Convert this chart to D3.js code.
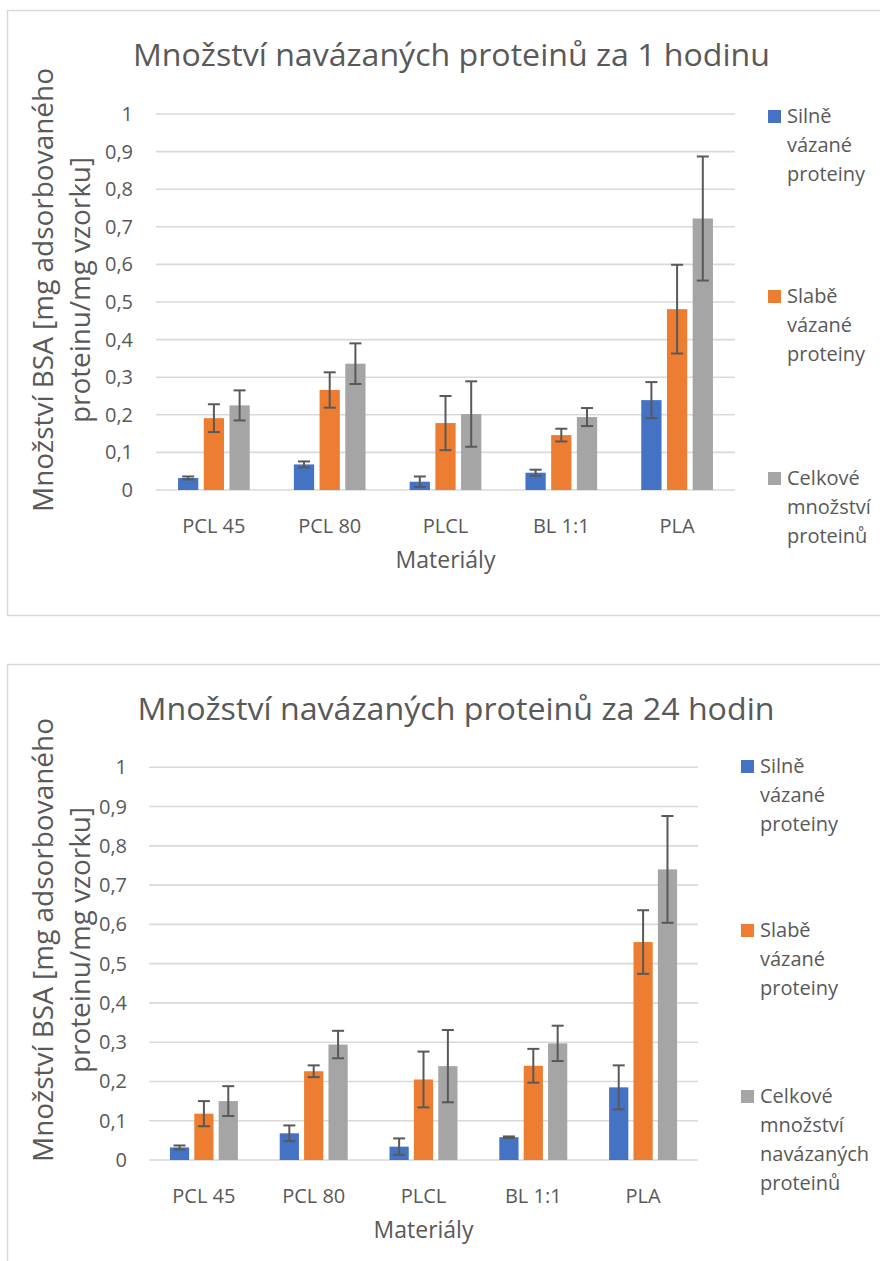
<!DOCTYPE html>
<html>
<head>
<meta charset="utf-8">
<script src="https://cdn.jsdelivr.net/npm/d3@7"></script>
<style>
  body { margin: 0; background: #fff; }
  text { font-family: "Open Sans", "Noto Sans", sans-serif; fill: #595959; }
</style>
</head>
<body>
<script>
var width = 880;
var height = 1261;

// data
var categories = ["PCL 45", "PCL 80", "PLCL", "BL 1:1", "PLA"];
var xTitle = "Materiály";
var yTitle = ["Množství BSA [mg adsorbovaného", "proteinu/mg vzorku]"];

var title1h = "Množství navázaných proteinů za 1 hodinu";
var legend1h = [["Silně", "vázané", "proteiny"], ["Slabě", "vázané", "proteiny"], ["Celkové", "množství", "proteinů"]];
var strong1h = [0.032, 0.068, 0.022, 0.046, 0.239];
var strong1hErr = [0.004, 0.008, 0.014, 0.008, 0.048];
var weak1h = [0.191, 0.266, 0.178, 0.146, 0.481];
var weak1hErr = [0.037, 0.047, 0.072, 0.017, 0.118];
var total1h = [0.225, 0.336, 0.202, 0.194, 0.722];
var total1hErr = [0.040, 0.054, 0.087, 0.024, 0.165];

var title24h = "Množství navázaných proteinů za 24 hodin";
var legend24h = [["Silně", "vázané", "proteiny"], ["Slabě", "vázané", "proteiny"], ["Celkové", "množství", "navázaných", "proteinů"]];
var strong24h = [0.032, 0.068, 0.034, 0.058, 0.185];
var strong24hErr = [0.005, 0.020, 0.021, 0.002, 0.056];
var weak24h = [0.118, 0.226, 0.205, 0.240, 0.555];
var weak24hErr = [0.032, 0.015, 0.071, 0.043, 0.081];
var total24h = [0.150, 0.294, 0.239, 0.297, 0.740];
var total24hErr = [0.038, 0.035, 0.092, 0.045, 0.136];

var colors = ["#4472C4", "#ED7D31", "#A5A5A5"];

var svg = d3.select("body")
    .append("svg")
    .attr("width", width)
    .attr("height", height);

function drawChart(cfg) {
    var g = svg.append("g");

    // chart border
    g.append("rect")
        .attr("x", 7.5)
        .attr("y", cfg.top + 0.5)
        .attr("width", 900)
        .attr("height", cfg.boxH)
        .attr("fill", "none")
        .attr("stroke", "#d9d9d9")
        .attr("stroke-width", 1.5);

    var x = d3.scaleBand()
        .domain(categories)
        .range([cfg.left, cfg.right]);
    var y = d3.scaleLinear()
        .domain([0, 1])
        .range([cfg.bottom, cfg.plotTop]);

    var ticks = y.ticks(10);

    // gridlines
    g.append("g").selectAll("line")
        .data(ticks)
        .enter()
        .append("line")
        .attr("x1", cfg.left)
        .attr("x2", cfg.right)
        .attr("y1", function(d){ return y(d); })
        .attr("y2", function(d){ return y(d); })
        .attr("stroke", "#d9d9d9")
        .attr("stroke-width", 1.6);

    // y tick labels
    g.append("g").selectAll("text")
        .data(ticks)
        .enter()
        .append("text")
        .attr("x", cfg.tickX)
        .attr("y", function(d){ return y(d); })
        .attr("dy", "0.35em")
        .attr("text-anchor", "end")
        .style("font-size", "20px")
        .text(function(d){ return d3.format(".1~f")(d).replace(".", ","); });

    // category labels
    g.append("g").selectAll("text")
        .data(categories)
        .enter()
        .append("text")
        .attr("x", function(d){ return x(d) + x.bandwidth() / 2; })
        .attr("y", cfg.bottom + 43)
        .attr("text-anchor", "middle")
        .style("font-size", "20px")
        .text(function(d){ return d; });

    // bars + error bars
    var bw = x.bandwidth() * 0.175;
    var step = x.bandwidth() * 0.222;
    cfg.series.forEach(function(s, si) {
        var rows = categories.map(function(c, i){ return {cat: c, v: s.values[i], e: s.errors[i]}; });
        var cx = function(d){ return x(d.cat) + x.bandwidth() / 2 + (si - 1) * step; };

        g.append("g").selectAll("rect")
            .data(rows)
            .enter()
            .append("rect")
            .attr("x", function(d){ return cx(d) - bw / 2; })
            .attr("y", function(d){ return y(d.v); })
            .attr("width", bw)
            .attr("height", function(d){ return cfg.bottom - y(d.v); })
            .attr("fill", colors[si]);

        var eg = g.append("g")
            .attr("stroke", "#595959")
            .attr("stroke-width", 2);
        eg.selectAll(".v")
            .data(rows)
            .enter()
            .append("line")
            .attr("x1", cx).attr("x2", cx)
            .attr("y1", function(d){ return y(d.v + d.e); })
            .attr("y2", function(d){ return y(d.v - d.e); });
        eg.selectAll(".t")
            .data(rows)
            .enter()
            .append("line")
            .attr("x1", function(d){ return cx(d) - 6; })
            .attr("x2", function(d){ return cx(d) + 6; })
            .attr("y1", function(d){ return y(d.v + d.e); })
            .attr("y2", function(d){ return y(d.v + d.e); });
        eg.selectAll(".b")
            .data(rows)
            .enter()
            .append("line")
            .attr("x1", function(d){ return cx(d) - 6; })
            .attr("x2", function(d){ return cx(d) + 6; })
            .attr("y1", function(d){ return y(d.v - d.e); })
            .attr("y2", function(d){ return y(d.v - d.e); });
    });

    // chart title
    g.append("text")
        .attr("x", cfg.titleX)
        .attr("y", cfg.top + 56)
        .attr("text-anchor", "middle")
        .attr("textLength", 637)
        .attr("lengthAdjust", "spacingAndGlyphs")
        .style("font-size", "31px")
        .text(cfg.title);

    // x axis title
    g.append("text")
        .attr("x", (cfg.left + cfg.right) / 2)
        .attr("y", cfg.bottom + 78)
        .attr("text-anchor", "middle")
        .style("font-size", "23px")
        .text(xTitle);

    // y axis title (two lines)
    var yt = g.append("g")
        .attr("transform", "translate(0," + cfg.yTitleY + ") rotate(-90)");
    yt.append("text")
        .attr("x", 0)
        .attr("y", 53)
        .attr("text-anchor", "middle")
        .attr("textLength", 444)
        .attr("lengthAdjust", "spacingAndGlyphs")
        .style("font-size", "28px")
        .text(yTitle[0]);
    yt.append("text")
        .attr("x", 0)
        .attr("y", 90)
        .attr("text-anchor", "middle")
        .attr("textLength", 266)
        .attr("lengthAdjust", "spacingAndGlyphs")
        .style("font-size", "28px")
        .text(yTitle[1]);

    // legend
    var lg = g.append("g");
    cfg.legend.forEach(function(lines, i) {
        var by = cfg.legendY[i];
        lg.append("rect")
            .attr("x", cfg.legendX)
            .attr("y", by - 13)
            .attr("width", 13)
            .attr("height", 13)
            .attr("fill", colors[i]);
        lg.append("g").selectAll("text")
            .data(lines)
            .enter()
            .append("text")
            .attr("x", cfg.legendX + 19)
            .attr("y", function(d, j){ return by + j * 29; })
            .style("font-size", "20px")
            .text(function(d){ return d; });
    });
}

drawChart({
    top: 10, boxH: 605,
    left: 156, right: 735, plotTop: 114, bottom: 490,
    tickX: 133, titleX: 451.5, yTitleY: 290,
    title: title1h,
    legend: legend1h, legendX: 768, legendY: [123, 303, 485],
    series: [
        {values: strong1h, errors: strong1hErr},
        {values: weak1h, errors: weak1hErr},
        {values: total1h, errors: total1hErr}
    ]
});

drawChart({
    top: 664, boxH: 700,
    left: 149, right: 698, plotTop: 767.3, bottom: 1160,
    tickX: 127, titleX: 456, yTitleY: 940,
    title: title24h,
    legend: legend24h, legendX: 741, legendY: [773, 937, 1103],
    series: [
        {values: strong24h, errors: strong24hErr},
        {values: weak24h, errors: weak24hErr},
        {values: total24h, errors: total24hErr}
    ]
});
</script>
</body>
</html>
